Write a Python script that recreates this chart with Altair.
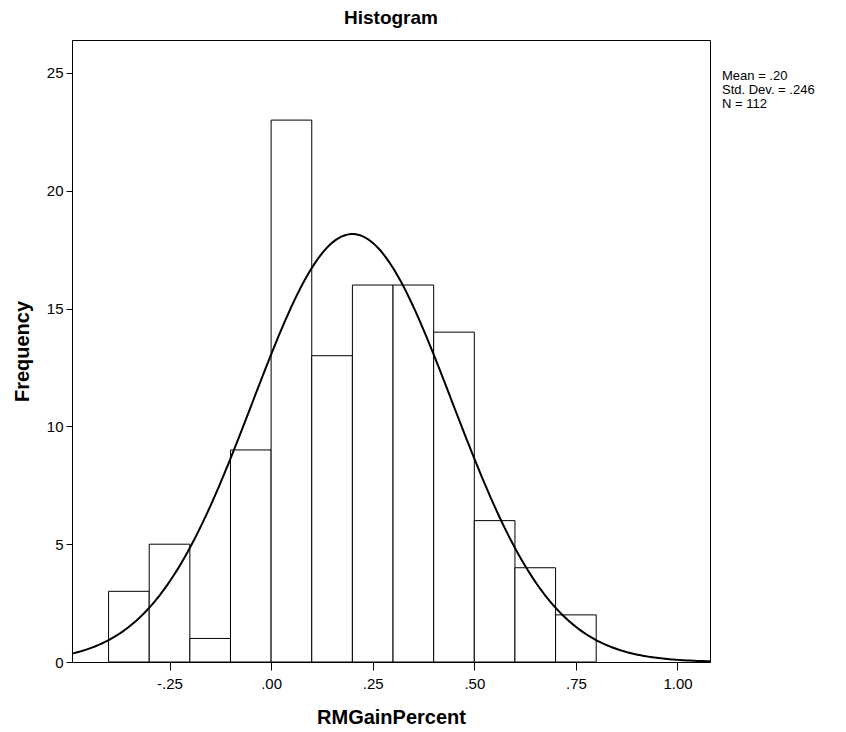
import altair as alt
import pandas as pd
import numpy as np

# Histogram bins (lower edge, upper edge) and counts
bin_start = [-0.4, -0.3, -0.2, -0.1, 0.0, 0.1, 0.2, 0.3, 0.4, 0.5, 0.6, 0.7]
bin_end = [-0.3, -0.2, -0.1, 0.0, 0.1, 0.2, 0.3, 0.4, 0.5, 0.6, 0.7, 0.8]
counts = [3, 5, 1, 9, 23, 13, 16, 16, 14, 6, 4, 2]

# Summary statistics shown on chart
mean_val = 0.20
sd_val = 0.246
n_val = 112
bin_width = 0.1

x_ticks = [-0.25, 0.0, 0.25, 0.5, 0.75, 1.0]
x_tick_labels = ["-.25", ".00", ".25", ".50", ".75", "1.00"]
y_ticks = [0, 5, 10, 15, 20, 25]
stats_lines = ["Mean = .20", "Std. Dev. = .246", "N = 112"]

x_domain = [-0.49, 1.08]
y_domain = [0, 26.4]

bars = pd.DataFrame({"x0": bin_start, "x1": bin_end, "count": counts})

# Normal curve defined by the displayed mean, sd and N
xs = np.linspace(x_domain[0], x_domain[1], 300)
curve = pd.DataFrame({
    "x": xs,
    "y": n_val * bin_width / (sd_val * np.sqrt(2 * np.pi)) * np.exp(-0.5 * ((xs - mean_val) / sd_val) ** 2),
})

label_expr = " : ".join(
    f"abs(datum.value - ({v})) < 0.01 ? '{l}'" for v, l in zip(x_ticks, x_tick_labels)
) + " : ''"

FONT = "Liberation Sans"

x_scale = alt.Scale(domain=x_domain, nice=False, zero=False)
y_scale = alt.Scale(domain=y_domain, nice=False)

x_axis = alt.Axis(
    title="RMGainPercent", values=x_ticks, labelExpr=label_expr, grid=False,
    tickSize=8, tickColor="black", domainColor="black", labelColor="black",
    labelFontSize=15, labelFont=FONT, titleFont=FONT, titleFontSize=20,
    titleFontWeight="bold", titlePadding=16, labelPadding=6,
)
y_axis = alt.Axis(
    title="Frequency", values=y_ticks, grid=False, tickSize=6, tickColor="black",
    domainColor="black", labelColor="black", labelFontSize=15, labelFont=FONT,
    titleFont=FONT, titleFontSize=20, titleFontWeight="bold", titlePadding=14,
    labelPadding=3,
)

bar_layer = alt.Chart(bars).mark_rect(fill="white", stroke="black", strokeWidth=1).encode(
    x=alt.X("x0:Q", scale=x_scale, axis=x_axis),
    x2="x1:Q",
    y=alt.Y("count:Q", scale=y_scale, axis=y_axis),
    y2=alt.datum(0),
)

line_layer = alt.Chart(curve).mark_line(color="black", strokeWidth=2).encode(
    x=alt.X("x:Q", scale=x_scale),
    y=alt.Y("y:Q", scale=y_scale),
)

stats = pd.DataFrame({"t": ["\n".join(stats_lines)]})
text_layer = alt.Chart(stats).mark_text(
    align="left", baseline="top", fontSize=13, font=FONT, color="black",
    lineBreak="\n", lineHeight=14,
).encode(
    x=alt.value(650),
    y=alt.value(30),
    text="t:N",
)

chart = alt.layer(bar_layer, line_layer, text_layer).properties(
    width=638,
    height=622,
    title=alt.TitleParams("Histogram", fontSize=19, font=FONT, fontWeight="bold", anchor="middle", offset=12, color="black"),
    autosize=alt.AutoSizeParams(type="none"),
    padding={"left": 64, "top": 32, "right": 128, "bottom": 68},
).configure_view(stroke="black", strokeWidth=1)

chart.save("out.html", embed_options={"renderer": "svg", "actions": False})
